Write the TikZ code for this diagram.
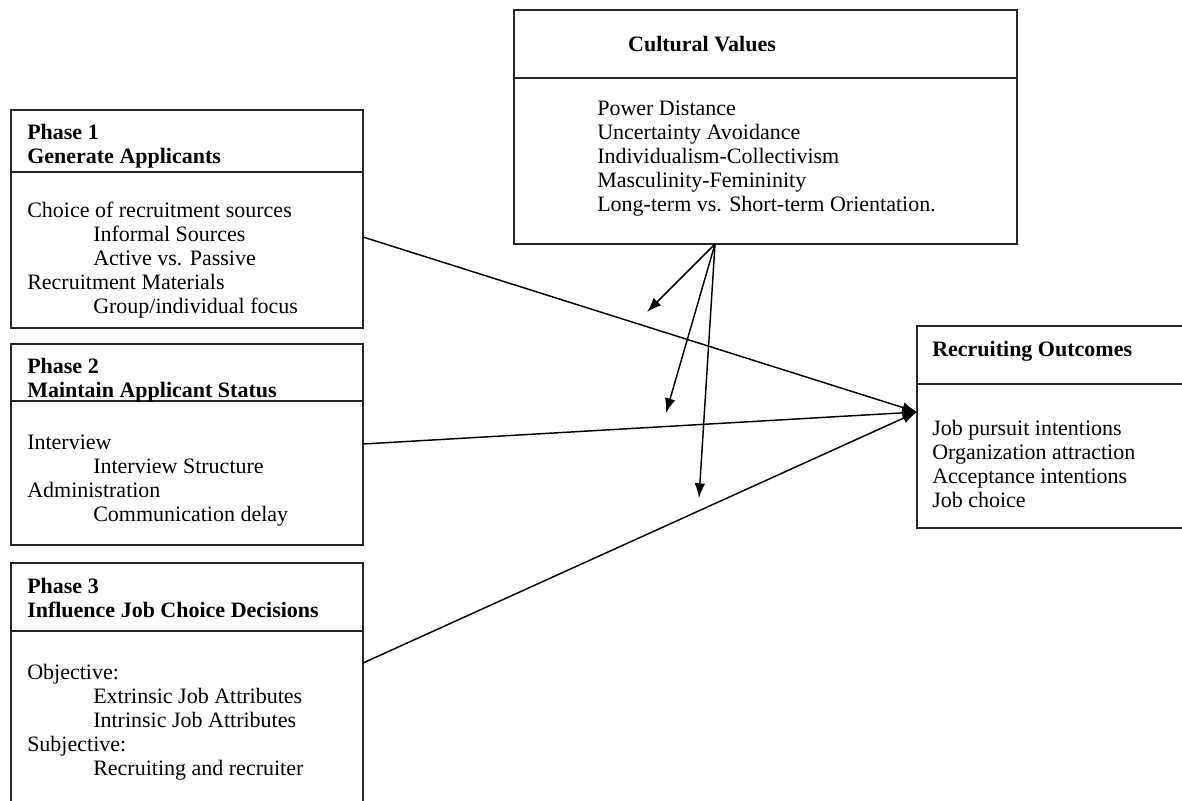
\documentclass[tikz,border=0pt]{standalone}
\usepackage{fontspec}
\setmainfont{Liberation Serif}
\usetikzlibrary{arrows.meta,calc}
\begin{document}
\begin{tikzpicture}[x=0.75pt,y=-0.75pt,
  box/.style={draw=black!85,line width=1.1pt,rectangle,inner sep=0pt,outer sep=0pt,anchor=north west},
  divider/.style={draw=black!85,line width=1.1pt},
  txt/.style={anchor=north west,inner sep=0pt,align=left,font=\fontsize{16.5}{18}\selectfont},
  head/.style={txt,font=\fontsize{16.5}{18}\selectfont\bfseries},
  arr/.style={line width=1.1pt,-{Latex[length=11pt,width=8pt]}}]
\clip (0,0) rectangle (1182,800);
\fill[white] (0,0) rectangle (1182,800);
% boxes
\node[box,minimum width=264pt,minimum height=163.5pt] (p1) at (11,110) {};
\node[box,minimum width=264pt,minimum height=150.75pt] (p2) at (11,344) {};
\node[box,minimum width=264pt,minimum height=200.25pt] (p3) at (11,563) {};
\node[box,minimum width=377.25pt,minimum height=175.5pt] (cv) at (514,10) {};
\node[box,minimum width=212.25pt,minimum height=151.5pt] (ro) at (917,326) {};
% dividers
\draw[divider] (p1.west |- 0,172) -- (p1.east |- 0,172);
\draw[divider] (p2.west |- 0,401) -- (p2.east |- 0,401);
\draw[divider] (p3.west |- 0,631) -- (p3.east |- 0,631);
\draw[divider] (cv.west |- 0,78) -- (cv.east |- 0,78);
\draw[divider] (ro.west |- 0,384) -- (ro.east |- 0,384);
% texts
\newcommand{\ind}{\hspace*{49.5pt}}
\node[head] (p1h) at (27,124) {Phase 1\\Generate Applicants};
\node[txt] (p1b) at (27,202) {Choice of recruitment sources\\\ind Informal Sources\\\ind Active vs. Passive\\Recruitment Materials\\\ind Group/individual focus};
\node[head] (p2h) at (27,358) {Phase 2\\Maintain Applicant Status};
\node[txt] (p2b) at (27,435) {Interview\\\ind Interview Structure\\Administration\\\ind Communication delay};
\node[head] (p3h) at (27,578) {Phase 3\\Influence Job Choice Decisions};
\node[txt] (p3b) at (27,664) {Objective:\\\ind Extrinsic Job Attributes\\\ind Intrinsic Job Attributes\\Subjective:\\\ind Recruiting and recruiter};
\node[head,anchor=north] (cvh) at (702,36) {Cultural Values};
\node[txt] (cvb) at (597,101) {Power Distance\\Uncertainty Avoidance\\Individualism-Collectivism\\Masculinity-Femininity\\Long-term vs. Short-term Orientation.};
\node[head] (roh) at (932,341) {Recruiting Outcomes};
\node[txt] (rob) at (932,420) {Job pursuit intentions\\Organization attraction\\Acceptance intentions\\Job choice};
% connectors
\coordinate (roin) at (ro.west |- 0,412);
\draw[arr] (p1.east |- 0,237) -- (roin);
\draw[arr] (p2.east |- 0,444) -- (roin);
\draw[arr] (p3.east |- 0,663) -- (roin);
\coordinate (cvo) at (cv.south -| 715,0);
\coordinate (t1) at (647,312);
\coordinate (t2) at (666,413);
\coordinate (t3) at (699,498);
\draw[arr] (cvo) -- (t1);
\draw[arr] (cvo) -- (t2);
\draw[arr] (cvo) -- (t3);
\end{tikzpicture}
\end{document}
